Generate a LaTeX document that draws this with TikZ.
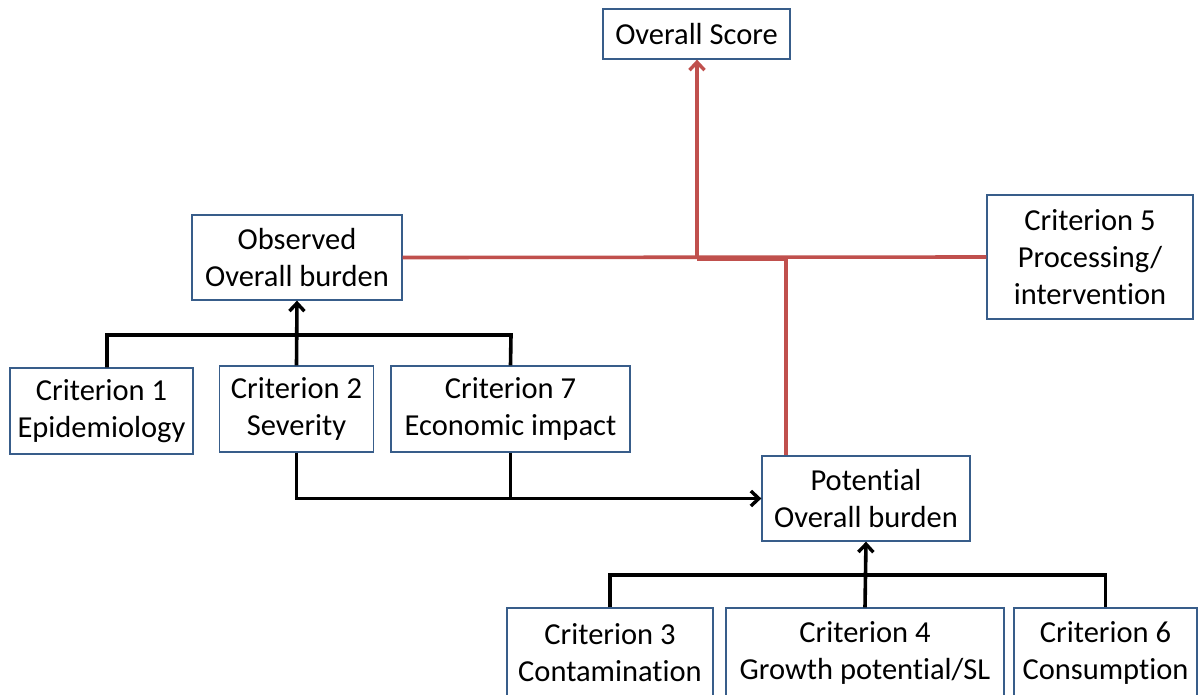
\documentclass[tikz,border=0pt]{standalone}
\usepackage{fontspec}
\setmainfont[Ligatures=NoCommon]{Carlito}
\usetikzlibrary{arrows.meta,calc}
\definecolor{boxblue}{HTML}{385D8A}
\definecolor{linered}{HTML}{C0504D}
\begin{document}
\begin{tikzpicture}[x=1pt,y=-1pt,
  box/.style={draw=boxblue, line width=1.3pt, fill=white, align=center, inner sep=0pt,
    font=\fontsize{30.5}{37}\selectfont},
  blk/.style={line width=3.6pt, black},
  redline/.style={line width=3.6pt, linered},
  tip/.style={-{Straight Barb[length=8pt,width=15pt,line width=3.4pt]}}
]
\useasboundingbox (0,0) rectangle (1199,694);
\fill[white] (0,0) rectangle (1199,694);

\node[box, minimum width=187pt, minimum height=50pt] (score) at (696.5,34) {Overall Score};
\node[box, minimum width=210pt, minimum height=85pt] (obs) at (297,257.5) {Observed\\Overall burden};
\node[box, minimum width=206pt, minimum height=124pt] (c5) at (1090,257) {Criterion 5\\Processing/\\intervention};
\node[box, minimum width=183pt, minimum height=86pt] (c1) at (101.5,411) {Criterion 1\\Epidemiology};
\node[box, minimum width=154pt, minimum height=86pt] (c2) at (296.5,409) {Criterion 2\\Severity};
\node[box, minimum width=239pt, minimum height=86pt] (c7) at (510.5,409) {Criterion 7\\Economic impact};
\node[box, minimum width=208pt, minimum height=85pt] (pot) at (866,498.5) {Potential\\Overall burden};
\node[box, minimum width=206pt, minimum height=90pt] (c3) at (610,653) {Criterion 3\\Contamination};
\node[box, minimum width=278pt, minimum height=90pt] (c4) at (865,653) {Criterion 4\\Growth potential/SL};
\node[box, minimum width=183pt, minimum height=90pt] (c6) at (1105.5,653) {Criterion 6\\Consumption};

% black connectors, observed side
\coordinate (jA) at (107,335);
\coordinate (jB) at (511,335);
\draw[blk] (c1.north -| jA) -- (jA) -- (jB) -- (c7.north);
\draw[blk,tip] (c2.north) -- (obs.south);
\draw[blk,tip] (c2.south) |- (pot.west);
\draw[blk] (c7.south) -- (c7.south |- pot.west);

% black connectors, potential side
\coordinate (jD) at (612,575);
\draw[blk] (c3.north) -- (c3.north |- jD) -- (c6.north |- jD) -- (c6.north);
\draw[blk,tip] (c4.north) -- (pot.south);

% red connectors
\coordinate (rA) at (697,259);
\coordinate (rB) at (786,259);
\draw[redline] (obs.east) -- (c5.west);
\draw[redline,tip] (rA) -- (rA |- score.south);
\draw[redline] (rA) -- (rB) -- (rB |- pot.north);
\end{tikzpicture}
\end{document}
